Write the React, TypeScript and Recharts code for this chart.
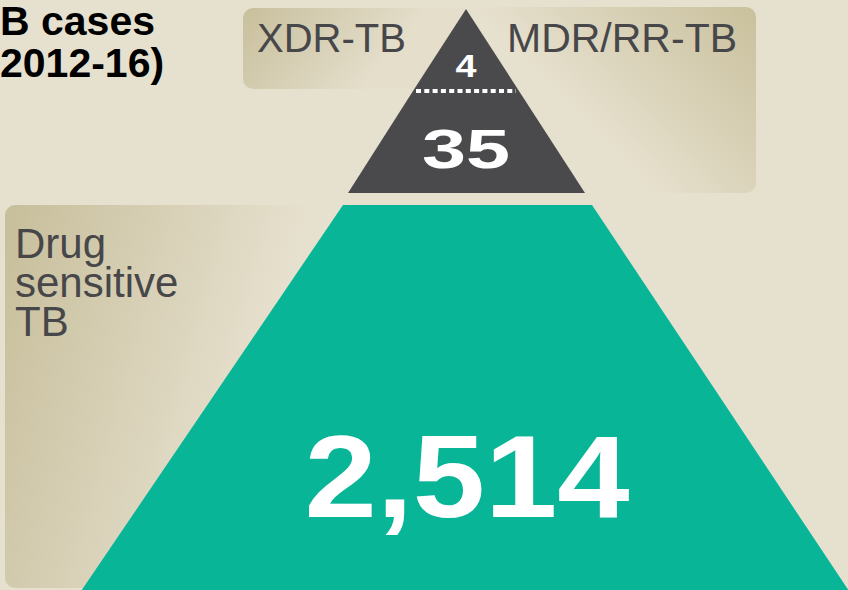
import { BarChart, Bar, XAxis, YAxis } from "recharts"

// TB cases by drug resistance, 2012-16
const tiers = ["XDR-TB", "MDR/RR-TB", "Drug sensitive TB"]
const cases = [4, 35, 2514]
const titleLines = ["B cases", "2012-16)"]

const BG = "#e6e0cf"
const TEAL = "#08b596"
const DARK = "#4a4a4c"
const LABEL = "#47474a"
const FONT = "'Liberation Sans', Arial, sans-serif"

const W = 848
const H = 590

// pyramid is not to scale: each tier is a slice of one triangle
const tierPolys = [
  [[466, 9], [519, 91], [413, 91]],
  [[413, 91], [519, 91], [585, 193], [348, 193]],
  [[343, 205], [592, 205], [855, 600], [75, 600]],
]
const valueStyle = [
  { x: 466, y: 77, size: 31, len: 21 },
  { x: 466, y: 168, size: 55, len: 88 },
  { x: 467, y: 517, size: 117, len: 325 },
]
const boxStyle = [
  { x: 243, y: 8, w: 230, h: 81, tx: 257, ty: 52, size: 40, lh: 0 },
  { x: 460, y: 7, w: 296, h: 186, tx: 507, ty: 52, size: 41, lh: 0 },
  { x: 5, y: 205, w: 360, h: 383, tx: 15, ty: 258, size: 42, lh: 39 },
]

const data = tiers.map((tier, i) => ({ tier, cases: cases[i] }))

function TierBox(props: any) {
  const { index, payload } = props
  const b = boxStyle[index]
  const lines = index === 2 ? payload.tier.split(" ") : [payload.tier]
  return (
    <g>
      <rect x={b.x} y={b.y} width={b.w} height={b.h} rx={10} fill={`url(#box-grad-${index})`} />
      <text x={b.tx} y={b.ty} fontFamily={FONT} fontSize={b.size} fill={LABEL}>
        {lines.map((l: string, i: number) => (
          <tspan key={i} x={b.tx} dy={i === 0 ? 0 : b.lh}>{l}</tspan>
        ))}
      </text>
    </g>
  )
}

function PyramidTier(props: any) {
  const { index, payload } = props
  const pts = tierPolys[index].map((p) => p.join(",")).join(" ")
  const v = valueStyle[index]
  return (
    <g>
      <polygon points={pts} fill={index === 2 ? TEAL : DARK} />
      {index === 1 && (
        <line x1={416} x2={516} y1={91} y2={91} stroke="#fff" strokeWidth={4} strokeDasharray="5 3.3" />
      )}
      <text
        x={v.x}
        y={v.y}
        textAnchor="middle"
        fontFamily={FONT}
        fontWeight="bold"
        fontSize={v.size}
        fill="#fff"
        textLength={v.len}
        lengthAdjust="spacingAndGlyphs"
      >
        {payload.cases.toLocaleString("en-US")}
      </text>
    </g>
  )
}

export default function App() {
  return (
    <div style={{ width: W, height: H, background: BG }}>
      <style>{`body{margin:0}`}</style>
      <BarChart
        width={W}
        height={H}
        data={data}
        layout="vertical"
        margin={{ top: 0, right: 0, bottom: 0, left: 0 }}
      >
        <defs>
          <linearGradient id="box-grad-0" x1="0" y1="0" x2="1" y2="0.3">
            <stop offset="0" stopColor="#c8bf9c" />
            <stop offset="0.75" stopColor="#e4decb" />
          </linearGradient>
          <linearGradient id="box-grad-1" x1="1" y1="0" x2="0" y2="0.6">
            <stop offset="0" stopColor="#c9c09c" />
            <stop offset="0.7" stopColor="#e6e0ce" />
          </linearGradient>
          <linearGradient id="box-grad-2" x1="0" y1="0.1" x2="1" y2="0.4">
            <stop offset="0" stopColor="#c8bf9c" />
            <stop offset="0.75" stopColor="#e6e0ce" />
          </linearGradient>
        </defs>
        <XAxis type="number" hide />
        <YAxis type="category" dataKey="tier" hide />
        <Bar dataKey="cases" shape={<TierBox />} isAnimationActive={false} />
        <Bar dataKey="cases" shape={<PyramidTier />} isAnimationActive={false} />
        <text fontFamily={FONT} fontWeight="bold" fontSize={41} fill="#000">
          <tspan x={0} y={35}>{titleLines[0]}</tspan>
          <tspan x={0} y={77}>{titleLines[1]}</tspan>
        </text>
      </BarChart>
    </div>
  )
}
